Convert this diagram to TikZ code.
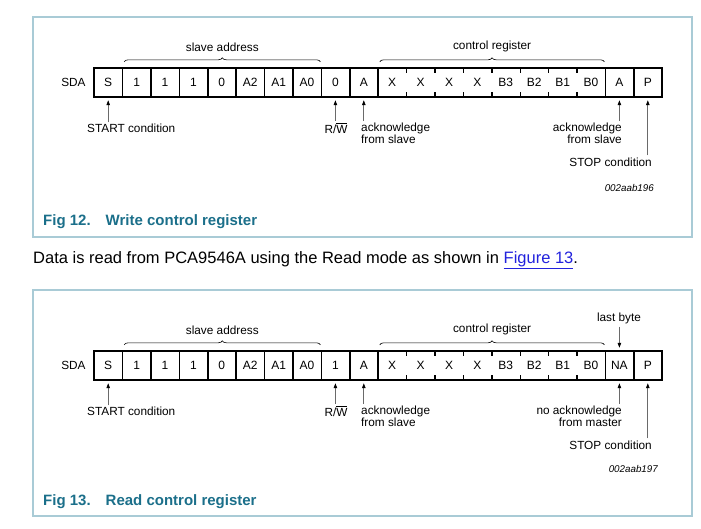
\documentclass[tikz,border=0pt]{standalone}
\usepackage{fontspec}
\setmainfont{Liberation Sans}
\usetikzlibrary{positioning, arrows.meta, decorations.pathreplacing}
\definecolor{cFrame}{HTML}{A9CBD6}
\definecolor{cCaption}{HTML}{1B6F8A}
\definecolor{cLink}{HTML}{2222DD}
\definecolor{cShaft}{HTML}{6A6A6A}
\tikzset{
  bitcell/.style={
    minimum width=28.4pt, minimum height=29pt, inner sep=0pt,
    font=\fontsize{12}{12}\selectfont
  },
  cellline/.style={line width=1.6pt},
  tickmark/.style={line width=1.4pt},
  sdalbl/.style={
    inner sep=0pt, font=\fontsize{11.8}{12}\selectfont
  },
  sigarrow/.style={
    -{Triangle[length=5pt, width=3.5pt, color=black]}, draw=cShaft, line width=0.8pt
  },
  fieldbrace/.style={
    decorate, decoration={brace, amplitude=4pt}, line width=0.6pt
  },
  figframe/.style={draw=cFrame, line width=1.2pt},
  figcaption/.style={
    inner sep=0pt, text=cCaption, font=\fontsize{15}{17}\selectfont\bfseries
  },
  figcode/.style={
    inner sep=0pt, font=\fontsize{9.8}{11}\selectfont\itshape
  },
}

\begin{document}
\begin{tikzpicture}[x=1pt, y=-1pt]
\useasboundingbox (0,0) rectangle (701,528);

% frames
\draw[figframe] (33,17) rectangle (692,237);
\draw[figframe] (33,290) rectangle (692,516);

% ---------- Fig 12: write ----------
\foreach \lbl [count=\i] in {S,1,1,1,0,A2,A1,A0,0,A,X,X,X,X,B3,B2,B1,B0,A,P}
  \node[bitcell] (w\i) at ({94+28.4*(\i-0.5)},82.5) {\lbl};
\node[sdalbl, left=8pt of w1] (wsda) {SDA};

\draw[cellline] (w1.north west) rectangle (w20.south east);
\foreach \i in {1,...,10,18,19}
  \draw[cellline] (w\i.north east) -- (w\i.south east);
\foreach \i in {11,...,17} {
  \draw[tickmark] (w\i.north east) -- ++(0,5);
  \draw[tickmark] (w\i.south east) -- ++(0,-5);
}

\draw[fieldbrace] ([xshift=2pt, yshift=6pt]w2.north west) --
  node[sdalbl, above=10pt] (wslave) {slave address} ([xshift=-1pt, yshift=6pt]w8.north east);
\draw[fieldbrace] ([xshift=2pt, yshift=6pt]w11.north west) --
  node[sdalbl, above=10pt] (wctrl) {control register} ([xshift=-1pt, yshift=6pt]w18.north east);

\node[sdalbl, anchor=west] (wstart) at (87,128) {START condition};
\node[sdalbl] (wrw) at (336,128) {R/$\overline{\mbox{W}}$};
\node[sdalbl, align=left, anchor=north west] (wack) at (361,123) {acknowledge\\from slave};
\node[sdalbl, align=right, anchor=north east] (wack2) at (622,123) {acknowledge\\from slave};
\node[sdalbl, anchor=east] (wstop) at (652,162) {STOP condition};
\node[figcode, anchor=east] (wcode) at (654,188) {002aab196};

\draw[sigarrow] ([yshift=1pt]wstart.north -| w1) -- ([yshift=-3pt]w1.south);
\draw[sigarrow] ([yshift=2pt]wrw.north -| w9) -- ([yshift=-3pt]w9.south);
\draw[sigarrow] ([yshift=2pt]wack.north -| w10) -- ([yshift=-3pt]w10.south);
\draw[sigarrow] ([yshift=2pt]wack2.north -| w19) -- ([yshift=-3pt]w19.south);
\draw[sigarrow] ([yshift=2pt]wstop.north -| w20) -- ([yshift=-3pt]w20.south);

\node[figcaption, anchor=west] (wcap) at (43,222) {Fig 12.\hspace{15pt}Write control register};

% text between the figures
\node[inner sep=0pt, anchor=west, font=\fontsize{16.5}{18}\selectfont] (para) at (33,260)
  {Data is read from PCA9546A using the Read mode as shown in \textcolor{cLink}{\underline{Figure 13}}.};

% ---------- Fig 13: read ----------
\foreach \lbl [count=\i] in {S,1,1,1,0,A2,A1,A0,1,A,X,X,X,X,B3,B2,B1,B0,NA,P}
  \node[bitcell] (r\i) at ({94+28.4*(\i-0.5)},365.5) {\lbl};
\node[sdalbl, left=8pt of r1] (rsda) {SDA};

\draw[cellline] (r1.north west) rectangle (r20.south east);
\foreach \i in {1,...,10,18,19}
  \draw[cellline] (r\i.north east) -- (r\i.south east);
\foreach \i in {11,...,17} {
  \draw[tickmark] (r\i.north east) -- ++(0,5);
  \draw[tickmark] (r\i.south east) -- ++(0,-5);
}

\draw[fieldbrace] ([xshift=2pt, yshift=6pt]r2.north west) --
  node[sdalbl, above=10pt] (rslave) {slave address} ([xshift=-1pt, yshift=6pt]r8.north east);
\draw[fieldbrace] ([xshift=2pt, yshift=6pt]r11.north west) --
  node[sdalbl, above=10pt] (rctrl) {control register} ([xshift=-1pt, yshift=6pt]r18.north east);

\node[sdalbl] (rlast) at (619,318) {last byte};
\draw[sigarrow] ([yshift=-3pt]rlast.south -| r19) -- ([yshift=3pt]r19.north);

\node[sdalbl, anchor=west] (rstart) at (87,411) {START condition};
\node[sdalbl] (rrw) at (336,411) {R/$\overline{\mbox{W}}$};
\node[sdalbl, align=left, anchor=north west] (rack) at (361,406) {acknowledge\\from slave};
\node[sdalbl, align=right, anchor=north east] (rnack) at (622,406) {no acknowledge\\from master};
\node[sdalbl, anchor=east] (rstop) at (652,445) {STOP condition};
\node[figcode, anchor=east] (rcode) at (658,469) {002aab197};

\draw[sigarrow] ([yshift=1pt]rstart.north -| r1) -- ([yshift=-3pt]r1.south);
\draw[sigarrow] ([yshift=2pt]rrw.north -| r9) -- ([yshift=-3pt]r9.south);
\draw[sigarrow] ([yshift=2pt]rack.north -| r10) -- ([yshift=-3pt]r10.south);
\draw[sigarrow] ([yshift=2pt]rnack.north -| r19) -- ([yshift=-3pt]r19.south);
\draw[sigarrow] ([yshift=2pt]rstop.north -| r20) -- ([yshift=-3pt]r20.south);

\node[figcaption, anchor=west] (rcap) at (43,502) {Fig 13.\hspace{15pt}Read control register};

\end{tikzpicture}
\end{document}
